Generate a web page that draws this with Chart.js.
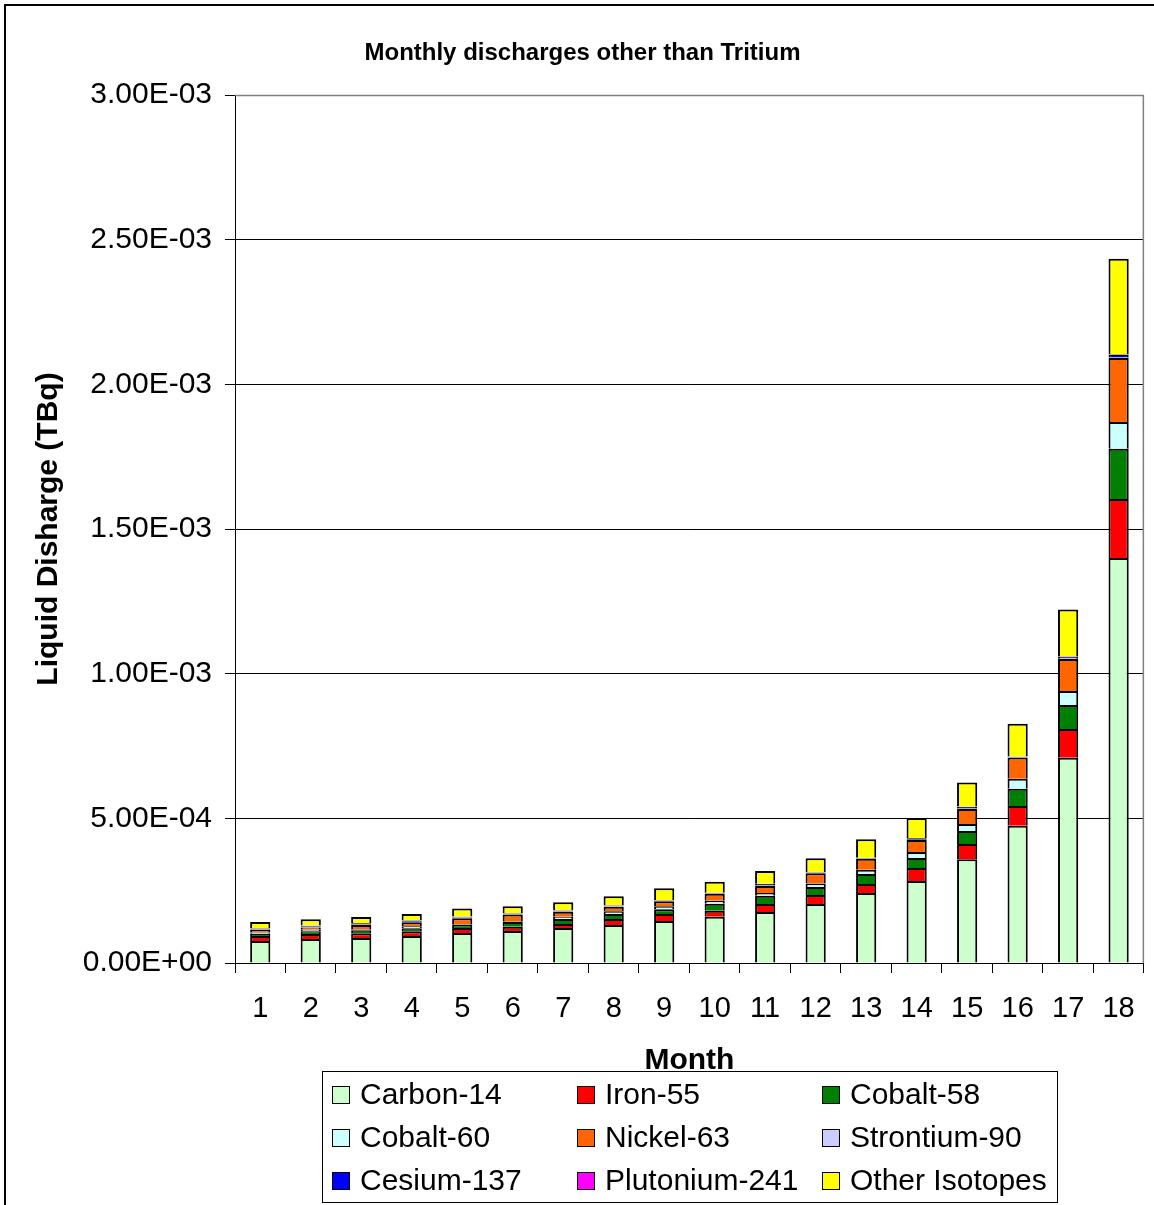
<!DOCTYPE html>
<html>
<head>
<meta charset="utf-8">
<title>Monthly discharges other than Tritium</title>
<script src="https://cdn.jsdelivr.net/npm/chart.js@4.4.1/dist/chart.umd.min.js"></script>
<style>
  body { margin: 0; background: #fff; }
  #grafico { display: block; }
</style>
</head>
<body>
<canvas id="grafico" width="1154" height="1205"></canvas>
<script>
const meses = ["1", "2", "3", "4", "5", "6", "7", "8", "9", "10", "11", "12", "13", "14", "15", "16", "17", "18"];

// liquid discharge per isotope, TBq
const carbono14 = [7.6e-5, 8.3e-5, 8.6e-5, 9.3e-5, 1.04e-4, 1.11e-4, 1.21e-4, 1.31e-4, 1.45e-4, 1.60e-4, 1.76e-4, 2.04e-4, 2.42e-4, 2.83e-4, 3.59e-4, 4.74e-4, 7.09e-4, 1.400e-3];
const hierro55 = [1.7e-5, 1.7e-5, 1.7e-5, 1.7e-5, 1.7e-5, 1.4e-5, 1.4e-5, 2.1e-5, 2.4e-5, 2.1e-5, 2.8e-5, 3.1e-5, 3.1e-5, 4.5e-5, 5.2e-5, 6.9e-5, 1.00e-4, 2.04e-4];
const cobalto58 = [8e-6, 1.0e-5, 1.0e-5, 1.0e-5, 1.0e-5, 1.7e-5, 1.7e-5, 1.7e-5, 1.7e-5, 2.4e-5, 2.8e-5, 2.8e-5, 3.5e-5, 3.5e-5, 4.5e-5, 5.9e-5, 8.3e-5, 1.73e-4];
const cobalto60 = [4e-6, 5e-6, 4e-6, 7e-6, 3e-6, 2e-6, 8e-6, 1.0e-5, 1.0e-5, 1.0e-5, 1.0e-5, 1.2e-5, 1.4e-5, 2.1e-5, 2.4e-5, 3.5e-5, 4.8e-5, 9.3e-5];
const niquel63 = [9e-6, 8e-6, 1.4e-5, 1.4e-5, 2.1e-5, 2.4e-5, 1.7e-5, 1.5e-5, 1.7e-5, 2.4e-5, 2.4e-5, 3.5e-5, 3.8e-5, 4.1e-5, 5.2e-5, 7.3e-5, 1.11e-4, 2.21e-4];
const estroncio90 = [2e-6, 2e-6, 2e-6, 2e-6, 2e-6, 1e-6, 1e-6, 2e-6, 1e-6, 1e-6, 2e-6, 1e-6, 1e-6, 1e-6, 2e-6, 1e-6, 2e-6, 2e-6];
const cesio137 = [3e-6, 4e-6, 4e-6, 4e-6, 3e-6, 2e-6, 3e-6, 3e-6, 2e-6, 2e-6, 5e-6, 2e-6, 2e-6, 5e-6, 6e-6, 2e-6, 5e-6, 1.0e-5];
const plutonio241 = [1e-6, 1e-6, 1e-6, 1e-6, 1e-6, 1e-6, 1e-6, 1e-6, 1e-6, 1e-6, 1e-6, 1e-6, 1e-6, 1e-6, 1e-6, 1e-6, 1e-6, 1e-6];
const otros = [2.2e-5, 2.1e-5, 2.1e-5, 2.1e-5, 2.7e-5, 2.4e-5, 2.8e-5, 3.1e-5, 4.1e-5, 3.8e-5, 4.4e-5, 4.8e-5, 6.4e-5, 6.9e-5, 8.3e-5, 1.13e-4, 1.63e-4, 3.30e-4];

const yTicks = [0, 5e-4, 1e-3, 1.5e-3, 2e-3, 2.5e-3, 3e-3];

const fuente = "'Liberation Sans', Arial, sans-serif";
Chart.defaults.font.family = fuente;
Chart.defaults.color = "#000";

const ctx = document.getElementById("grafico");

function sci(v) {
    if (Math.abs(v) < 1e-12) return "0.00E+00";
    const partes = v.toExponential(2).split("e");
    const exp = parseInt(partes[1], 10);
    return partes[0] + "E" + (exp < 0 ? "-" : "+") + String(Math.abs(exp)).padStart(2, "0");
}

function serie(label, data, color) {
    return {
        label: label,
        data: data,
        backgroundColor: color,
        borderColor: "#000",
        borderWidth: 2,
        borderSkipped: "start",
        categoryPercentage: 1,
        barPercentage: 0.4
    };
}

// fondo blanco, marco exterior y borde del area de trazado
const marco = {
    id: "marco",
    beforeDraw(chart) {
        const c = chart.ctx;
        c.save();
        c.fillStyle = "#fff";
        c.fillRect(0, 0, chart.width, chart.height);
        c.strokeStyle = "#000";
        c.lineWidth = 2;
        c.strokeRect(5, 5, chart.width + 20, chart.height + 20);
        c.restore();
    },
    afterDraw(chart) {
        const a = chart.chartArea;
        const c = chart.ctx;
        c.save();
        c.strokeStyle = "#808080";
        c.lineWidth = 1.5;
        c.beginPath();
        c.moveTo(a.left, a.top + 0.5);
        c.lineTo(a.right - 0.5, a.top + 0.5);
        c.lineTo(a.right - 0.5, a.bottom);
        c.stroke();
        c.restore();
    }
};

// leyenda en cuadricula de 3 columnas, con caja
const leyenda = {
    id: "leyenda",
    afterDraw(chart) {
        const c = chart.ctx;
        c.save();
        c.fillStyle = "#fff";
        c.fillRect(322, 1071, 735, 131);
        c.strokeStyle = "#000";
        c.lineWidth = 1;
        c.strokeRect(322.5, 1071.5, 735, 131);
        c.font = "30px " + fuente;
        c.textBaseline = "middle";
        c.textAlign = "left";
        chart.data.datasets.forEach((ds, i) => {
            const col = i % 3;
            const fila = Math.floor(i / 3);
            const x = 332 + col * 245;
            const y = 1095 + fila * 43;
            c.fillStyle = ds.backgroundColor;
            c.fillRect(x, y - 9, 18, 18);
            c.strokeStyle = "#000";
            c.strokeRect(x + 0.5, y - 8.5, 17, 17);
            c.fillStyle = "#000";
            c.fillText(ds.label, x + 28, y + 1);
        });
        c.restore();
    }
};

new Chart(ctx, {
    type: "bar",
    data: {
        labels: meses,
        datasets: [
            serie("Carbon-14", carbono14, "#CCFFCC"),
            serie("Iron-55", hierro55, "#FF0000"),
            serie("Cobalt-58", cobalto58, "#008000"),
            serie("Cobalt-60", cobalto60, "#CCFFFF"),
            serie("Nickel-63", niquel63, "#FF6600"),
            serie("Strontium-90", estroncio90, "#CCCCFF"),
            serie("Cesium-137", cesio137, "#0000FF"),
            serie("Plutonium-241", plutonio241, "#FF00FF"),
            serie("Other Isotopes", otros, "#FFFF00")
        ]
    },
    options: {
        responsive: false,
        animation: false,
        devicePixelRatio: 1,
        layout: { padding: { left: 20, right: 9, top: 0, bottom: 0 } },
        plugins: {
            legend: { display: false },
            tooltip: { enabled: false },
            title: {
                display: true,
                text: "Monthly discharges other than Tritium",
                font: { size: 24, weight: "bold" },
                color: "#000",
                padding: { top: 39, bottom: 27.2 }
            }
        },
        scales: {
            x: {
                stacked: true,
                offset: true,
                grid: {
                    drawOnChartArea: false,
                    drawTicks: true,
                    tickLength: 10,
                    color: "#000",
                    offset: true
                },
                border: { display: true, color: "#000", width: 1 },
                ticks: { font: { size: 29 }, padding: 19, maxRotation: 0, autoSkip: false },
                title: {
                    display: true,
                    text: "Month",
                    font: { size: 30, weight: "bold" },
                    padding: { top: 0, bottom: 126 }
                },
                afterFit(scale) { scale.height = 242; }
            },
            y: {
                stacked: true,
                min: 0,
                max: 3e-3,
                afterBuildTicks(scale) {
                    scale.ticks = yTicks.map(v => ({ value: v }));
                },
                grid: {
                    color: "#000",
                    lineWidth: 1,
                    drawTicks: true,
                    tickLength: 10
                },
                border: { display: true, color: "#000", width: 1 },
                ticks: {
                    font: { size: 30 },
                    padding: 13,
                    callback: v => sci(v)
                },
                title: {
                    display: true,
                    text: "Liquid Disharge (TBq)",
                    font: { size: 30, weight: "bold" },
                    padding: { top: 11, bottom: 0 }
                },
                afterFit(scale) { scale.width = 215; }
            }
        }
    },
    plugins: [marco, leyenda]
});
</script>
</body>
</html>
